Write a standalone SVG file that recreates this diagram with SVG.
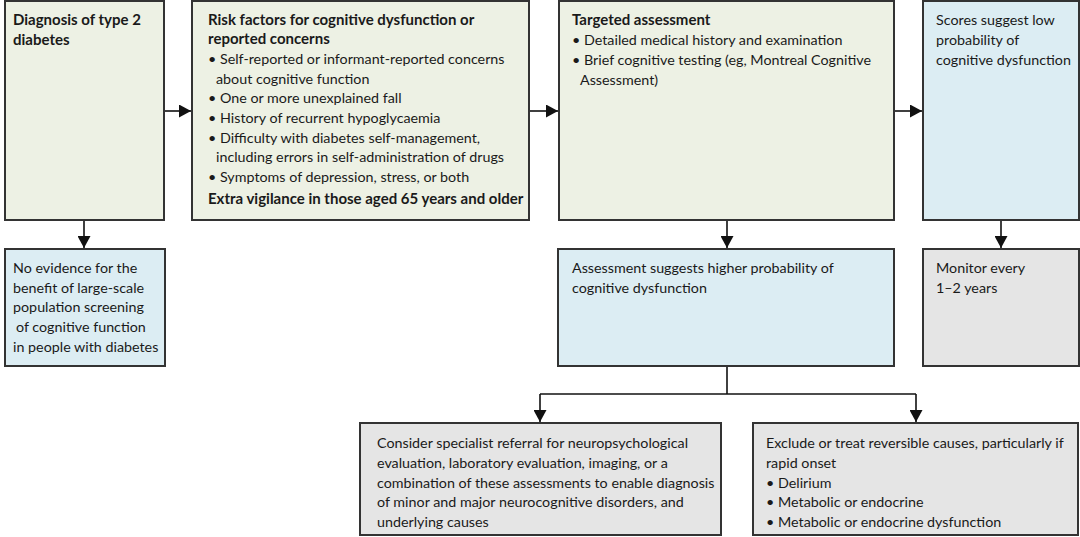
<svg xmlns="http://www.w3.org/2000/svg" width="1080" height="537" viewBox="0 0 1080 537">
<defs>
<marker id="ah" markerWidth="12" markerHeight="13" refX="12" refY="6.5" orient="auto" markerUnits="userSpaceOnUse">
<path d="M0,0 L12,6.5 L0,13 Z" fill="#111"/>
</marker>
</defs>
<style>
.g{fill:#edf1e4;stroke:#333;stroke-width:2}
.b{fill:#dcedf3;stroke:#333;stroke-width:2}
.y{fill:#e5e5e5;stroke:#333;stroke-width:2}
text{font-family:Lato,"Liberation Sans",sans-serif;font-size:14.3px;fill:#1a1a1a}
.t{font-weight:bold;font-size:15px}
.c{fill:none;stroke:#111;stroke-width:1.6}
</style>
<rect width="1080" height="537" fill="#fff"/>
<g id="connectors">
<path class="c" d="M164,111 H191" marker-end="url(#ah)"/>
<path class="c" d="M529,111 H558" marker-end="url(#ah)"/>
<path class="c" d="M894,111 H922" marker-end="url(#ah)"/>
<path class="c" d="M84,220 V248" marker-end="url(#ah)"/>
<path class="c" d="M727,220 V248" marker-end="url(#ah)"/>
<path class="c" d="M1001,220 V248" marker-end="url(#ah)"/>
<path class="c" d="M727,366 V394"/>
<path class="c" d="M540,394 H916"/>
<path class="c" d="M540,394 V422" marker-end="url(#ah)"/>
<path class="c" d="M916,394 V422" marker-end="url(#ah)"/>
</g>
<g id="n1">
<rect class="g" x="5" y="1" width="159" height="219"/>
<text class="t" x="13" y="25">Diagnosis of type 2</text>
<text class="t" x="13" y="45">diabetes</text>
</g>
<g id="n2">
<rect class="g" x="192" y="1" width="337" height="219"/>
<text class="t" x="208" y="25">Risk factors for cognitive dysfunction or</text>
<text class="t" x="208" y="44">reported concerns</text>
<text x="208" y="64">• Self-reported or informant-reported concerns</text>
<text x="216" y="84">about cognitive function</text>
<text x="208" y="103">• One or more unexplained fall</text>
<text x="208" y="123">• History of recurrent hypoglycaemia</text>
<text x="208" y="143">• Difficulty with diabetes self-management,</text>
<text x="216" y="162">including errors in self-administration of drugs</text>
<text x="208" y="182">• Symptoms of depression, stress, or both</text>
<text class="t" x="208" y="204">Extra vigilance in those aged 65 years and older</text>
</g>
<g id="n3">
<rect class="g" x="559" y="1" width="335" height="219"/>
<text class="t" x="572" y="25">Targeted assessment</text>
<text x="572" y="45">• Detailed medical history and examination</text>
<text x="572" y="65">• Brief cognitive testing (eg, Montreal Cognitive</text>
<text x="580" y="85">Assessment)</text>
</g>
<g id="n4">
<rect class="b" x="923" y="1" width="156" height="219"/>
<text x="936" y="25">Scores suggest low</text>
<text x="936" y="45">probability of</text>
<text x="936" y="65">cognitive dysfunction</text>
</g>
<g id="n5">
<rect class="b" x="5" y="249" width="160" height="117"/>
<text x="13" y="273">No evidence for the</text>
<text x="13" y="293">benefit of large-scale</text>
<text x="13" y="312">population screening</text>
<text x="16" y="332">of cognitive function</text>
<text x="13" y="352">in people with diabetes</text>
</g>
<g id="n6">
<rect class="b" x="558" y="249" width="336" height="117"/>
<text x="572" y="273">Assessment suggests higher probability of</text>
<text x="572" y="293">cognitive dysfunction</text>
</g>
<g id="n7">
<rect class="y" x="923" y="249" width="156" height="117"/>
<text x="936" y="273">Monitor every</text>
<text x="936" y="293">1–2 years</text>
</g>
<g id="n8">
<rect class="y" x="360" y="423" width="361" height="112"/>
<text x="377" y="448">Consider specialist referral for neuropsychological</text>
<text x="377" y="468">evaluation, laboratory evaluation, imaging, or a</text>
<text x="377" y="488">combination of these assessments to enable diagnosis</text>
<text x="377" y="507">of minor and major neurocognitive disorders, and</text>
<text x="377" y="527">underlying causes</text>
</g>
<g id="n9">
<rect class="y" x="753" y="423" width="325" height="112"/>
<text x="766" y="448">Exclude or treat reversible causes, particularly if</text>
<text x="766" y="468">rapid onset</text>
<text x="766" y="488">• Delirium</text>
<text x="766" y="507">• Metabolic or endocrine</text>
<text x="766" y="527">• Metabolic or endocrine dysfunction</text>
</g>
</svg>
